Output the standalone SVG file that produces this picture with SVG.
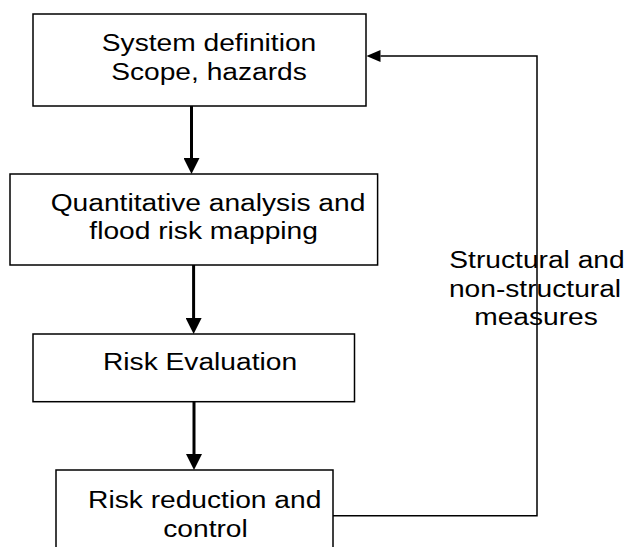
<svg xmlns="http://www.w3.org/2000/svg" width="626" height="547" viewBox="0 0 626 547">
<style>
.box{fill:#fff;stroke:#000;stroke-width:1.5}
.t{font-family:"Liberation Sans",Arial,sans-serif;font-size:24.5px;fill:#000;text-anchor:middle}
.thick{stroke:#000;stroke-width:3;fill:none}
.thin{stroke:#000;stroke-width:1.5;fill:none}
</style>
<defs>
<marker id="ah" markerUnits="userSpaceOnUse" markerWidth="16" markerHeight="16" viewBox="0 0 16 16" refX="0" refY="8" orient="auto"><path d="M0,0 L16,8 L0,16 z" fill="#000"/></marker>
<marker id="ahs" markerUnits="userSpaceOnUse" markerWidth="14" markerHeight="12" viewBox="0 0 14 12" refX="0" refY="6" orient="auto"><path d="M0,0 L14,6 L0,12 z" fill="#000"/></marker>
</defs>
<rect width="626" height="547" fill="#fff"/>
<g id="n1"><rect class="box" x="33" y="14" width="333" height="92"/>
<text class="t" transform="translate(209 50.7) scale(1.15 1)">System definition</text>
<text class="t" transform="translate(209 80) scale(1.15 1)">Scope, hazards</text></g>
<g id="n2"><rect class="box" x="10" y="174" width="367.6" height="91"/>
<text class="t" transform="translate(208 210.7) scale(1.15 1)">Quantitative analysis and</text>
<text class="t" transform="translate(203.6 238.5) scale(1.15 1)">flood risk mapping</text></g>
<g id="n3"><rect class="box" x="33" y="334" width="321.5" height="67.7"/>
<text class="t" transform="translate(200 370) scale(1.15 1)">Risk Evaluation</text></g>
<g id="n4"><rect class="box" x="56" y="470" width="277" height="100"/>
<text class="t" transform="translate(204.7 507.7) scale(1.15 1)">Risk reduction and</text>
<text class="t" transform="translate(205.5 536.7) scale(1.15 1)">control</text></g>
<g id="connectors">
<line class="thick" x1="191.5" y1="106" x2="191.5" y2="158" marker-end="url(#ah)"/>
<line class="thick" x1="193.6" y1="265" x2="193.6" y2="318" marker-end="url(#ah)"/>
<line class="thick" x1="194" y1="402" x2="194" y2="454" marker-end="url(#ah)"/>
<polyline class="thin" points="333,515.7 537,515.7 537,56 380.5,56" marker-end="url(#ahs)"/>
</g>
<g id="label">
<text class="t" transform="translate(537 267.7) scale(1.15 1)">Structural and</text>
<text class="t" transform="translate(535 296.7) scale(1.15 1)">non-structural</text>
<text class="t" transform="translate(536 325) scale(1.15 1)">measures</text>
</g>
</svg>
